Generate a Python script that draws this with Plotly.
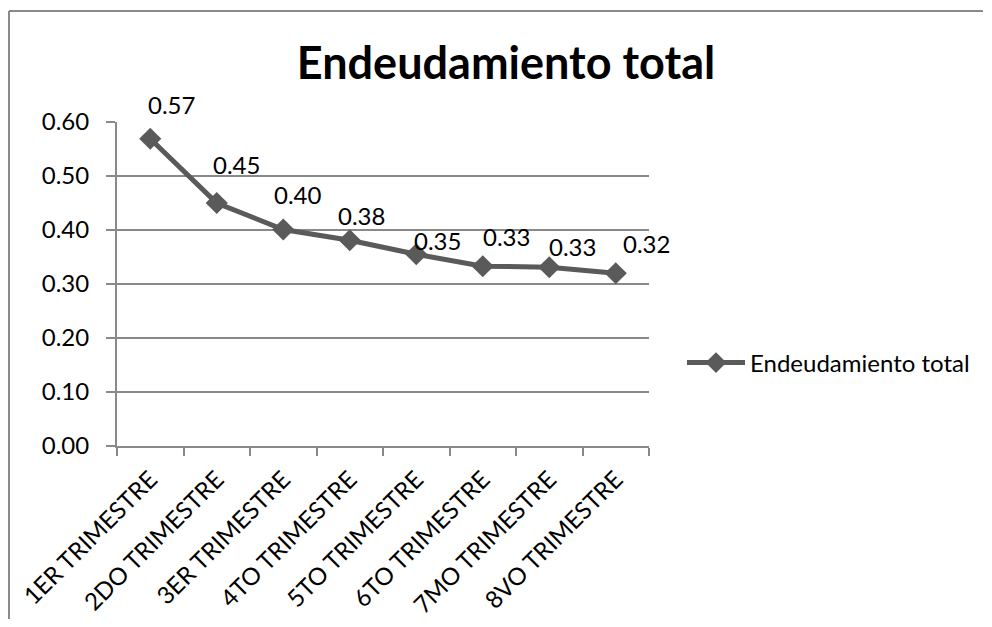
import plotly.graph_objects as go

categories = ["1ER TRIMESTRE", "2DO TRIMESTRE", "3ER TRIMESTRE", "4TO TRIMESTRE",
              "5TO TRIMESTRE", "6TO TRIMESTRE", "7MO TRIMESTRE", "8VO TRIMESTRE"]
values = [0.569, 0.450, 0.401, 0.381, 0.355, 0.333, 0.331, 0.320]
series_name = "Endeudamiento total"
title_text = "Endeudamiento total"
y_ticks = [0.0, 0.1, 0.2, 0.3, 0.4, 0.5, 0.6]

# pixel offsets of the data labels (style only)
label_dx = [-4, -6, -11, -14, -4, -2, -2, 5]
label_dy = [34, 39, 35, 25, 14, 30, 21, 30]

FONT = "Lato"
LINE_COLOR = "#5a5a5a"
GRID = "#898989"
OFF = 8  # page body margin

W, H = 976, 611
L, R, T, B = 117 - OFF, 649 - OFF, 122 - OFF, 446 - OFF
pw, ph = R - L, B - T

fig = go.Figure()
fig.add_trace(go.Scatter(
    x=categories, y=values, name=series_name, mode="lines+markers",
    line=dict(color=LINE_COLOR, width=5),
    marker=dict(symbol="diamond", size=17, color=LINE_COLOR),
))

for c, v, dx, dy in zip(categories, values, label_dx, label_dy):
    fig.add_annotation(x=c, y=v, text=f"{v:.2f}", showarrow=False,
                       xanchor="left", yanchor="middle", xshift=dx, yshift=dy,
                       font=dict(family=FONT, size=24, color="#000000"))

# chart-area border (top and left edges; the rest lies outside the picture)
bx0 = (9 - OFF - L) / pw
by1 = (B - (11 - OFF)) / ph
fig.add_shape(type="line", xref="paper", yref="paper", x0=bx0, x1=(W - 1 - L) / pw,
              y0=by1, y1=by1, line=dict(color="#8a8a8a", width=2), layer="below")
fig.add_shape(type="line", xref="paper", yref="paper", x0=bx0, x1=bx0,
              y0=by1, y1=(B - H - 20) / ph, line=dict(color="#8a8a8a", width=2), layer="below")

fig.update_layout(
    width=W, height=H,
    margin=dict(l=L, r=W - R, t=T, b=H - B, autoexpand=False),
    paper_bgcolor="white", plot_bgcolor="white",
    font=dict(family=FONT, size=24, color="#000000"),
    title=dict(text=f"<b>{title_text}</b>", x=(506 - OFF) / W, xref="container", xanchor="center",
               y=1 - (63 - OFF) / H, yref="container", yanchor="middle",
               font=dict(family=FONT, size=45, color="#000000")),
    showlegend=True,
    legend=dict(x=(682 - OFF - L) / pw, xanchor="left", y=(B - (363 - OFF)) / ph, yanchor="middle",
                font=dict(family=FONT, size=24), itemwidth=58, bgcolor="rgba(0,0,0,0)",
                tracegroupgap=0),
    xaxis=dict(type="category", showgrid=False, showline=True, linecolor=GRID, linewidth=2,
               ticks="outside", ticklen=8, tickcolor=GRID, tickwidth=2,
               tickson="boundaries", tickangle=-45, automargin=False, ticklabelstandoff=8,
               tickfont=dict(family=FONT, size=24), range=[-0.5, len(categories) - 0.5]),
    yaxis=dict(range=[0, 0.6], tickvals=y_ticks, tickformat=".2f", showgrid=True,
               gridcolor=GRID, gridwidth=2, showline=True, linecolor=GRID, linewidth=2,
               ticks="outside", ticklen=9, tickcolor=GRID, tickwidth=2, zeroline=False,
               automargin=False, ticklabelstandoff=12, tickfont=dict(family=FONT, size=24)),
)

fig.write_html("out.html")
